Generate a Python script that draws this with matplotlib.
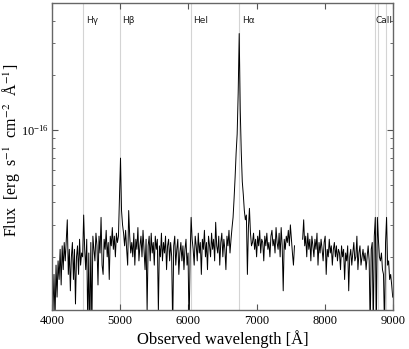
import numpy as np
import matplotlib
matplotlib.use('Agg')
import matplotlib.pyplot as plt
from matplotlib.ticker import LogLocator, NullFormatter

# --- data (flux in units of 1e-17 erg/s/cm2/A, sampled every 15 A from 4000 A) ---
nan = np.nan
flux_blue = [
    1.3, 1.0, 1.6, 0.9, 1.8, 1.2, 1.9, 1.5, 2.2, 1.4,
    2.3, 1.7, 2.4, 1.9, 2.5, 3.2, 1.6, 2.2, 1.3, 2.0,
    2.4, 1.5, 2.2, 1.1, 2.0, 2.3, 1.6, 2.5, 1.8, 2.1,
    2.0, 3.4, 2.2, 1.7, 2.5, 0.8, 2.1, 0.7, 2.4, 0.8,
    2.6, 2.2, 1.9, 2.7, 2.3, 1.4, 2.6, 2.1, 3.3, 1.8,
    1.6, 2.5, 2.2, 2.8, 2.0, 2.4, 1.5, 2.6, 2.3, 2.9,
    2.2, 2.6, 2.0, 2.7, 2.4,
]
flux_hbeta = [2.6, 4.2, 7.0, 3.6, 3.0, 2.7, 2.3, 2.8, 2.2, 1.8, 3.6, 2.6, 2.1]
flux_mid = [
    2.4, 2.0, 2.7, 1.8, 2.5, 2.2, 2.9, 1.9, 2.3, 2.6,
    2.0, 2.8, 2.2, 1.7, 2.5, 1.0, 2.3, 2.6, 1.9, 2.7,
    2.1, 2.4, 1.8, 2.6, 2.2, 2.5, 1.0, 2.3, 2.0, 2.7,
    1.9, 2.4, 2.1, 2.6, 1.7, 2.3, 2.5, 1.9, 2.4, 2.0,
    0.8, 2.3, 2.6, 1.8, 2.2, 2.5, 1.6, 2.1, 2.4, 1.9,
    2.3, 1.7, 2.2, 2.5, 1.8, 2.1, 0.8, 2.0,
    3.3, 2.5,
    2.2, 1.8, 2.6, 2.3, 1.9, 2.7, 2.1, 2.4, 1.6, 2.5,
    2.2, 2.8, 2.0, 2.4, 1.7, 2.6, 2.3, 2.0, 2.7, 2.2,
    2.5, 1.9, 3.1, 2.3, 2.1, 2.6, 1.8, 2.4, 2.7, 2.0,
    2.5, 2.2, 1.7, 2.6, 2.3, 2.8, 2.1, 2.5, 2.9,
]
flux_halpha = [3.3, 4.2, 5.5, 7.5, 9.5, 16, 34, 13, 7.6, 5.2,
               4.4, 3.6, 3.2, 3.4, 1.6, 2.9, 3.7, 2.7, 2.3]
flux_red = [
    2.4, 2.7, 2.2, 2.5, 2.0, 2.6, 2.3, 2.8, 2.1, 2.5,
    2.4, 1.9, 2.6, 2.3, 2.7, 2.2, 2.4, 2.0, 2.6, 2.8,
    2.3, 2.5, 2.1, 2.9, 2.4, 2.2, 2.7, 2.0, 2.9, 2.3,
    1.3, 2.5, 2.2, 2.6, 2.4, 2.8, 2.3, 3.0, 2.5, 2.1,
    1.8, 2.3,
    nan, nan, nan, nan, nan, nan, nan,  # telluric gap
    2.5, 3.2, 2.3, 2.6, 2.0, 2.7, 2.2, 2.5, 1.9, 2.6,
    2.3, 2.0, 2.5, 2.2, 2.7, 1.8, 2.4, 2.1, 2.5, 2.2,
    1.9, 2.4, 2.6, 1.6, 2.2, 2.0, 2.5, 2.1, 2.3, 1.8,
    2.2, 2.4, 2.0, 2.3, 1.9, 2.2, 2.1, 1.7, 2.3, 2.0,
    2.2, 1.5, 2.1, 1.9, 2.3, 1.3, 2.0, 2.2, 1.8, 2.1,
    2.4, 1.9, 2.0, 2.6, 1.7, 2.1, 2.3, 1.8, 2.0, 2.2,
    1.9, 2.1, 1.7, 2.0, 2.3, 1.9,
]
flux_caii = [0.8, 2.2, 2.4, 0.8, 2.6, 3.3, 0.8, 3.3, 2.5, 2.0,
             1.9, 2.1, 1.7, 1.6, 0.8, 2.4, 3.3, 1.8, 1.9, 1.5,
             1.6, 1.4, 1.2]

flux = np.array(flux_blue + flux_hbeta + flux_mid + flux_halpha + flux_red + flux_caii) * 1e-17
wave = 4000 + 15 * np.arange(len(flux))

# emission / absorption line markers (observed wavelengths)
line_names = ['Hγ', 'Hβ', 'HeI', 'Hα', 'CaII']
line_label_x = [4459, 4994, 6036, 6742, 8700]
line_waves = [4459, 4994, 6036, 6742, 8730, 8780, 8895]

# --- plot ---
plt.rcParams['font.family'] = 'serif'
plt.rcParams['font.serif'] = ['Liberation Serif', 'DejaVu Serif']
plt.rcParams['mathtext.fontset'] = 'stix'

fig = plt.figure(figsize=(4.09, 3.49), dpi=100)
ax = fig.add_axes([0.127, 0.112, 0.834, 0.879])

for w in line_waves:
    ax.axvline(w, color='#d4d4d4', lw=0.8, zorder=1)

ax.plot(wave, flux, color='black', lw=0.7, zorder=2)

for name, w in zip(line_names, line_label_x):
    ax.text(w + 40, 4.0e-16, name, family='DejaVu Sans', fontsize=6.5,
            va='center', ha='left', color='#222222')

ax.set_yscale('log')
ax.set_xlim(4000, 9000)
ax.set_ylim(1.02e-17, 5.0e-16)
ax.set_xticks([4000, 5000, 6000, 7000, 8000, 9000])
ax.yaxis.set_major_locator(LogLocator(base=10))
ax.yaxis.set_minor_locator(LogLocator(base=10, subs=np.arange(2, 10)))
ax.yaxis.set_minor_formatter(NullFormatter())

ax.tick_params(which='both', direction='in', top=True, right=True,
               labelsize=9, color='#555555')
ax.tick_params(which='major', length=4, pad=4)
ax.tick_params(axis='y', which='major', pad=2)
ax.tick_params(which='minor', length=2.5)
for s in ax.spines.values():
    s.set_color('#666666')
    s.set_linewidth(1.0)

ax.set_xlabel('Observed wavelength [Å]', fontsize=12, labelpad=2)
ax.set_ylabel(r'Flux  [erg  s$^{-1}$  cm$^{-2}$  Å$^{-1}$]', fontsize=11.5)
ax.yaxis.set_label_coords(-0.088, 0.52)

fig.savefig('out.png', dpi=100)
